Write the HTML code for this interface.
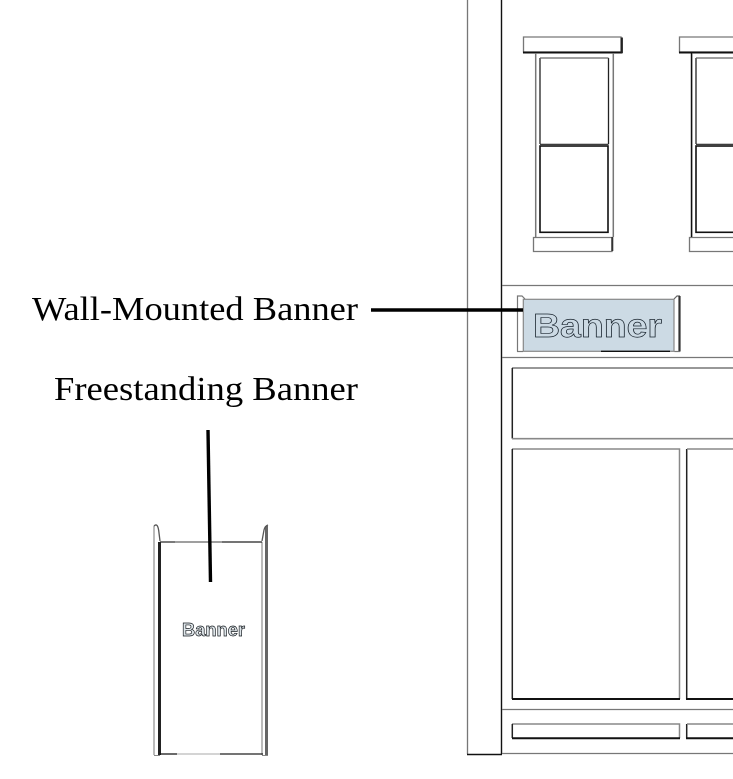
<!DOCTYPE html>
<html><head><meta charset="utf-8"><style>
html,body{margin:0;padding:0;background:#fff;width:733px;height:779px;overflow:hidden}
svg{display:block}
text{font-family:"Liberation Serif",serif}
.s{font-family:"Liberation Sans",sans-serif;font-weight:bold}
</style></head><body>
<svg width="733" height="779" viewBox="0 0 733 779" fill="none">
<defs>
<g id="win">
<path d="M523.5 37H621V52H523.5Z" stroke="#777" stroke-width="1.3"/>
<path d="M523 52.5H622.5" stroke="#111" stroke-width="2"/>
<path d="M621.8 37.5V53" stroke="#222" stroke-width="2.2"/>
<path d="M535.7 53V237M613.3 53V237" stroke="#777" stroke-width="1.5"/>
<path d="M540 58V144M608.5 58V144" stroke="#222" stroke-width="1.3"/>
<path d="M540 58H608.5" stroke="#666" stroke-width="1.2"/>
<path d="M540 144.3H608.5" stroke="#222" stroke-width="1.2"/>
<rect x="540" y="146" width="68" height="86.3" stroke="#111" stroke-width="1.6"/>
<path d="M533.5 237.5H612V251.5H533.5Z" stroke="#777" stroke-width="1.3"/>
<path d="M612.3 237V251" stroke="#333" stroke-width="2"/>
</g>
</defs>

<!-- building -->
<path d="M467.5 0V754" stroke="#777" stroke-width="1.3"/>
<path d="M501.5 0V754" stroke="#111" stroke-width="1.4"/>
<path d="M467 754.5H502" stroke="#111" stroke-width="1.4"/>
<path d="M502 285.5H733M502 357.5H733M502 709.5H733M502 753.5H733" stroke="#777" stroke-width="1.3"/>

<use href="#win"/>
<use href="#win" x="156"/>
<path d="M691.5 53V237" stroke="#111" stroke-width="1.4"/>

<!-- transom -->
<path d="M512 368H733" stroke="#777" stroke-width="1.6"/>
<path d="M512.3 368V438.5" stroke="#222" stroke-width="1.5"/>
<path d="M512 438.7H733" stroke="#888" stroke-width="1.6"/>

<!-- storefront -->
<path d="M512 449H679.5V699" stroke="#888" stroke-width="1.5"/>
<path d="M512.3 449V699" stroke="#222" stroke-width="1.5"/>
<path d="M512 699H680" stroke="#111" stroke-width="2"/>
<path d="M686.7 449V699" stroke="#222" stroke-width="1.5"/>
<path d="M687 449H733" stroke="#888" stroke-width="1.5"/>
<path d="M686 699H733" stroke="#111" stroke-width="2"/>

<path d="M512 724H679.5V738" stroke="#888" stroke-width="1.5"/>
<path d="M512.3 724V738" stroke="#222" stroke-width="1.5"/>
<path d="M512 738.3H680" stroke="#111" stroke-width="2"/>
<path d="M686.7 724V738" stroke="#222" stroke-width="1.5"/>
<path d="M687 724H733" stroke="#888" stroke-width="1.5"/>
<path d="M686 738.3H733" stroke="#111" stroke-width="2"/>

<!-- wall banner -->
<rect x="523.3" y="299.3" width="150.7" height="52" fill="#ccdae4" stroke="#888" stroke-width="1.2"/>
<path d="M517.5 351.5V296H522L525 299" stroke="#777" stroke-width="1.2"/>
<path d="M517 351.5H523" stroke="#777" stroke-width="1.2"/>
<path d="M674 299L677 296H680" stroke="#666" stroke-width="1.2"/>
<path d="M679.5 296V351.5" stroke="#333" stroke-width="2.2"/>
<path d="M674.5 351.5H680" stroke="#777" stroke-width="1.2"/>
<path d="M601 351.3H670" stroke="#111" stroke-width="1.3"/>
<text class="s" x="533" y="337" font-size="33" textLength="129" lengthAdjust="spacingAndGlyphs" fill="#ccdae4" stroke="#15202a" stroke-width="0.7">Banner</text>

<!-- freestanding banner -->
<path d="M154 755V526" stroke="#bbb" stroke-width="2"/>
<path d="M159.5 542V755" stroke="#222" stroke-width="3"/>
<path d="M262 542V755" stroke="#bbb" stroke-width="2"/>
<path d="M266.5 526V755" stroke="#666" stroke-width="3"/>
<path d="M154 526Q158 522 159 533L160 541" stroke="#555" stroke-width="1.3"/>
<path d="M262 541L264 530Q265 526 268 525" stroke="#555" stroke-width="1.3"/>
<path d="M160 542H175" stroke="#222" stroke-width="1.2"/>
<path d="M175 542H222" stroke="#666" stroke-width="1.2"/>
<path d="M222 542H262" stroke="#222" stroke-width="1.2"/>
<path d="M160 754H177" stroke="#111" stroke-width="1.2"/>
<path d="M177 754H220" stroke="#bbb" stroke-width="1.2"/>
<path d="M220 754H263" stroke="#222" stroke-width="1.2"/>
<path d="M154 755.5H160M262 755.5H268" stroke="#888" stroke-width="1"/>
<text class="s" x="182" y="636" font-size="18" textLength="63" lengthAdjust="spacingAndGlyphs" fill="#dfe6ea" stroke="#10151a" stroke-width="0.65">Banner</text>

<!-- leaders -->
<path d="M371 310H523" stroke="#000" stroke-width="3.4"/>
<path d="M208 430L210.5 582" stroke="#000" stroke-width="3.4"/>

<!-- labels -->
<text x="32" y="320" font-size="34" fill="#000" textLength="326" lengthAdjust="spacingAndGlyphs">Wall-Mounted Banner</text>
<text x="54" y="400" font-size="34" fill="#000" textLength="304" lengthAdjust="spacingAndGlyphs">Freestanding Banner</text>
</svg>
</body></html>
